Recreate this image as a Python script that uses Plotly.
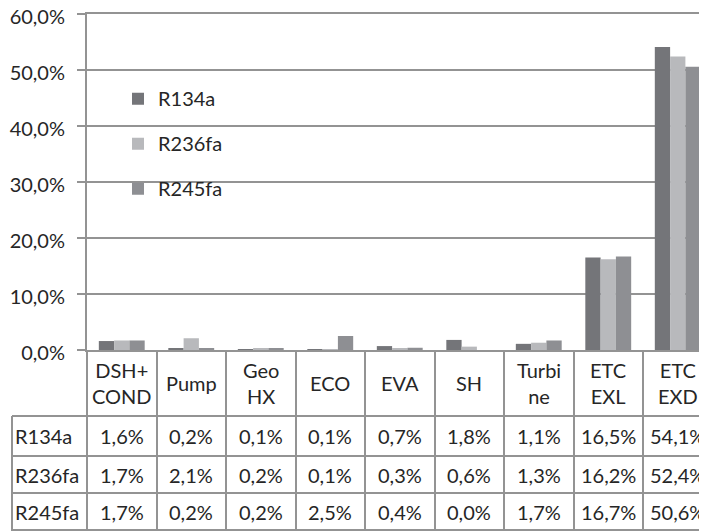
import plotly.graph_objects as go

categories = ["DSH+<br>COND", "Pump", "Geo<br>HX", "ECO", "EVA", "SH", "Turbi<br>ne", "ETC<br>EXL", "ETC<br>EXD"]
series_names = ["R134a", "R236fa", "R245fa"]
r134a = [1.6, 0.2, 0.1, 0.1, 0.7, 1.8, 1.1, 16.5, 54.1]
r236fa = [1.7, 2.1, 0.2, 0.1, 0.3, 0.6, 1.3, 16.2, 52.4]
r245fa = [1.7, 0.2, 0.2, 2.5, 0.4, 0.0, 1.7, 16.7, 50.6]
y_ticks = [0, 10, 20, 30, 40, 50, 60]

series_values = [r134a, r236fa, r245fa]
colors = ["#747579", "#b8b9bc", "#8e8f93"]
GRID = "#939393"
TXT = "#262626"
FONT = "Lato"
FS = 20

# page body has an 8px margin; figure is offset by it
OFF = 8
W, H = 707 - OFF, 531 - OFF
L, T = 87 - OFF, 14 - OFF
PLOT_BOTTOM = 350 - OFF
B = H - PLOT_BOTTOM
PW = W - L
PH = PLOT_BOTTOM - T
col_px = 69.5

def py(screen_y):
    return (350 - screen_y) / PH

def px(screen_x):
    return (screen_x - 87) / PW

def pct(v):
    return f"{v:.1f}".replace(".", ",") + "%"

fig = go.Figure()
for name, vals, c in zip(series_names, series_values, colors):
    fig.add_trace(go.Bar(x=categories, y=vals, name=name, marker=dict(color=c, line=dict(width=0)),
                         legendgroup=name))

annotations = []
header_y = py(383)
row_y = [py(436), py(474.5), py(511.5)]
for cat in categories:
    annotations.append(dict(x=cat, xref="x", y=header_y, yref="paper", text=cat, showarrow=False,
                            xanchor="center", yanchor="middle", font=dict(family=FONT, size=FS, color=TXT)))
for ri, (name, vals) in enumerate(zip(series_names, series_values)):
    annotations.append(dict(x=px(13), xref="paper", y=row_y[ri], yref="paper", text=name, showarrow=False,
                            xanchor="left", yanchor="middle", font=dict(family=FONT, size=FS, color=TXT)))
    for cat, v in zip(categories, vals):
        annotations.append(dict(x=cat, xref="x", y=row_y[ri], yref="paper",
                                text=pct(v), showarrow=False,
                                xanchor="center", yanchor="middle", font=dict(family=FONT, size=FS, color=TXT)))

shapes = []
for yy in [416, 456, 493, 530]:
    shapes.append(dict(type="line", xref="paper", yref="paper", x0=px(12), x1=1.02, y0=py(yy), y1=py(yy),
                       line=dict(color=GRID, width=2)))
shapes.append(dict(type="line", xref="paper", yref="paper", x0=px(12), x1=px(12), y0=py(416), y1=py(531),
                   line=dict(color=GRID, width=2)))

fig.update_layout(
    width=W, height=H,
    margin=dict(l=L, r=0, t=T, b=B, autoexpand=False),
    paper_bgcolor="white", plot_bgcolor="white",
    separators=",.",
    barmode="group", bargap=0.34, bargroupgap=0,
    font=dict(family=FONT, size=FS, color=TXT),
    showlegend=True,
    legend=dict(x=0.05, y=0.806, xanchor="left", yanchor="top", bgcolor="rgba(0,0,0,0)",
                tracegroupgap=16, font=dict(family=FONT, size=FS, color=TXT)),
    xaxis=dict(range=[-0.5, -0.5 + PW / col_px], showticklabels=False, showgrid=False, zeroline=False,
               showline=True, mirror=True, linecolor=GRID, linewidth=2, automargin=False,
               ticks="outside", tickson="boundaries", ticklen=182, tickwidth=2, tickcolor=GRID),
    yaxis=dict(range=[0, 60], tickmode="array", tickvals=y_ticks, ticktext=[pct(v) for v in y_ticks],
               showgrid=True, gridcolor=GRID, gridwidth=2, zeroline=False, automargin=False,
               showline=True, linecolor=GRID, linewidth=2, ticklabeloverflow="allow",
               ticklabelshift=3,
               ticks="outside", ticklen=8, tickwidth=2, tickcolor=GRID,
               ticklabelstandoff=8, tickfont=dict(family=FONT, size=FS, color=TXT)),
    annotations=annotations,
    shapes=shapes,
)

fig.write_html("out.html")
